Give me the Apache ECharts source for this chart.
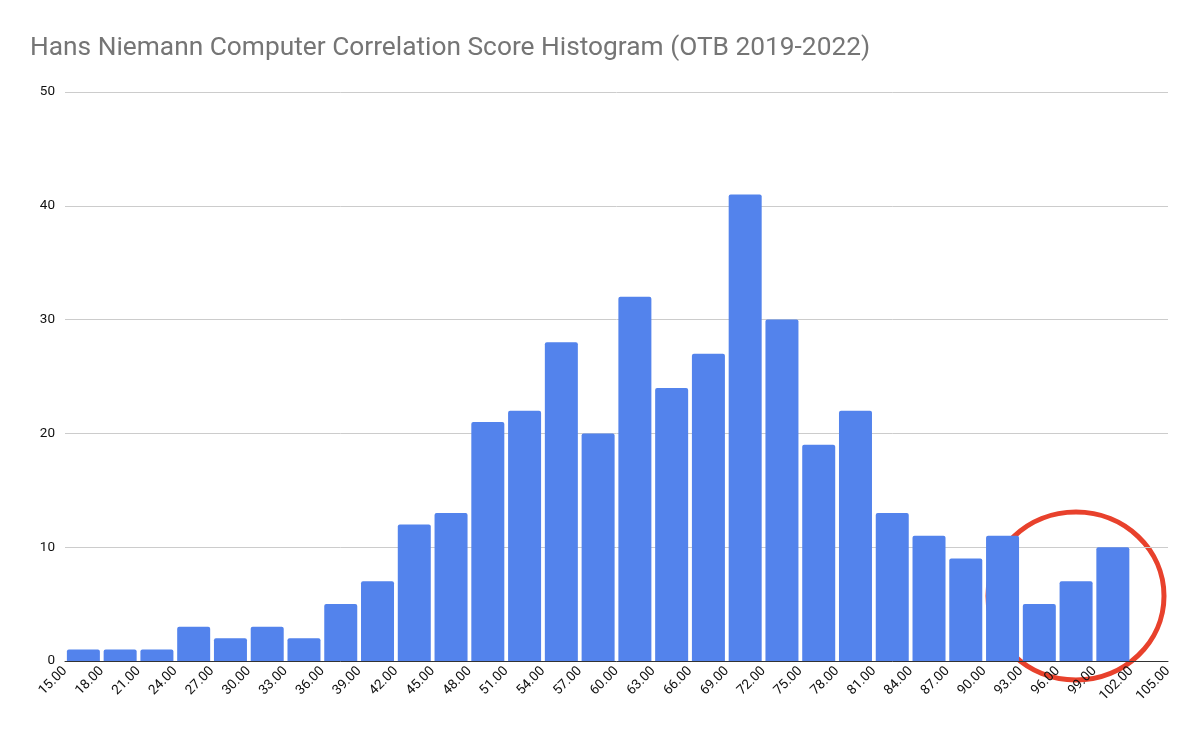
<!DOCTYPE html>
<html><head><meta charset="utf-8">
<script src="https://cdn.jsdelivr.net/npm/echarts@6/dist/echarts.min.js"></script>
<style>html,body{margin:0;background:#fff}#c{width:1200px;height:742px}</style>
</head><body><div id="c"></div>
<script>
const binStarts = [15,18,21,24,27,30,33,36,39,42,45,48,51,54,57,60,63,66,69,72,75,78,81,84,87,90,93,96,99];
const counts = [1,1,1,3,2,3,2,5,7,12,13,21,22,28,20,32,24,27,41,30,19,22,13,11,9,11,5,7,10];
const binWidth = 3;
const chart = echarts.init(document.getElementById('c'));
chart.setOption({
  animation:false,
  title:{text:'Hans Niemann Computer Correlation Score Histogram (OTB 2019-2022)',left:25,top:30,
    textStyle:{fontFamily:'Roboto',fontSize:26.3,fontWeight:'normal',color:'#757575'}},
  grid:{left:65,right:32,top:92,bottom:81},
  xAxis:{type:'value',min:15,max:105,interval:3,splitLine:{show:false},
    axisLine:{lineStyle:{color:'#333'}},axisTick:{show:false},
    axisLabel:{rotate:45,color:'#111',fontFamily:'Roboto',fontSize:13.5,formatter:v=>v.toFixed(2),margin:8,showMaxLabel:true}},
  yAxis:{type:'value',min:0,max:50,interval:10,
    axisLine:{show:false},axisTick:{show:false},
    splitLine:{lineStyle:{color:'#ccc'}},
    axisLabel:{color:'#111',fontFamily:'Roboto',fontSize:13.5,margin:10}},
  series:[{type:'bar',barWidth:33,itemStyle:{color:'#5383ec',borderRadius:[2,2,0,0]},
    data:binStarts.map((s,i)=>[s+binWidth/2,counts[i]])}],
  graphic:[{type:'ellipse',shape:{cx:1076,cy:596,rx:88,ry:84},
    style:{fill:'none',stroke:'#e8412c',lineWidth:5}}]
});
</script></body></html>
